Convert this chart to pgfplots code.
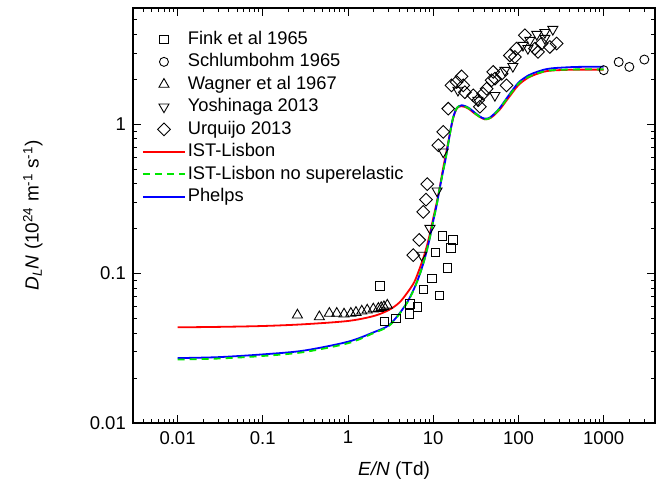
\documentclass[border=0pt]{standalone}
\usepackage{fontspec}
\setmainfont{Liberation Sans}
\usepackage{pgfplots}
\pgfplotsset{compat=1.18}
\definecolor{lgreen}{RGB}{0,230,0}
\begin{document}
\fontsize{18}{21}\selectfont
\begin{tikzpicture}[font=\fontsize{18}{21}\selectfont]
\useasboundingbox (-133pt,-68pt) rectangle (534pt,423pt);
\begin{axis}[
  at={(0,0)}, anchor=south west,
  scale only axis, width=522pt, height=415pt,
  xmode=log, ymode=log,
  xmin=0.003, xmax=4000, ymin=0.01, ymax=6,
  xtick={0.01,0.1,1,10,100,1000},
  xticklabels={0.01,0.1,1,10,100,1000},
  ytick={0.01,0.1,1},
  yticklabels={0.01,0.1,1},
  minor xtick={0.003,0.004,0.005,0.006,0.007,0.008,0.009,0.02,0.03,0.04,0.05,0.06,0.07,0.08,0.09,0.2,0.3,0.4,0.5,0.6,0.7,0.8,0.9,2,3,4,5,6,7,8,9,20,30,40,50,60,70,80,90,200,300,400,500,600,700,800,900,2000,3000,4000},
  minor ytick={0.02,0.03,0.04,0.05,0.06,0.07,0.08,0.09,0.2,0.3,0.4,0.5,0.6,0.7,0.8,0.9,2,3,4,5,6},
  tick align=inside,
  major tick length=8pt, minor tick length=4pt,
  axis line style={line width=1.2pt},
  every tick/.style={black, line width=0.9pt},
  /pgf/number format/assume math mode=true,
  tick label style={font=\fontsize{18.5}{20}\selectfont},
  xticklabel style={yshift=-2pt},
  yticklabel style={xshift=-1pt},
  xlabel={\textit{E/N} (Td)},
  xlabel style={at={(axis description cs:0.5,0)}, anchor=center, yshift=-48pt, font=\fontsize{19}{22}\selectfont},
  ylabel={\textit{D}\textsubscript{\textit{L}}\textit{N} (10\textsuperscript{24} m\textsuperscript{-1} s\textsuperscript{-1})},
  ylabel style={at={(axis description cs:-0.192,0.5)}, anchor=center, rotate=0, font=\fontsize{19}{22}\selectfont},
  legend style={draw=none, fill=none, at={(0.017,0.946)}, anchor=north west,
    font=\fontsize{18.3}{21}\selectfont, inner sep=0pt,
    nodes={inner sep=0pt, text height=13.5pt, text depth=4pt}, row sep=5pt, column sep=2pt},
  legend cell align=left,
  legend image code/.code={\draw[mark repeat=2,mark phase=2,#1] plot coordinates {(0pt,0pt) (21pt,0pt) (42pt,0pt)};},
]
% Fink et al 1965
\addplot[only marks, mark=square, mark size=4.2pt, mark options={black, line width=0.9pt}] coordinates {
(2.37,0.0825)(2.69,0.0479)(3.65,0.0499)(5.23,0.0536)(5.33,0.0625)(6.49,0.0597)(7.64,0.078)(9.66,0.0929)(10.7,0.139)(11.8,0.0715)(12.8,0.179)(14.6,0.109)(16.1,0.149)(17.1,0.168)};
% Schlumbohm 1965
\addplot[only marks, mark=o, mark size=4.5pt, mark options={black, line width=0.9pt}] coordinates {
(1000,2.30)(1500,2.61)(2000,2.42)(3000,2.71)};
% Wagner et al 1967
\addplot[only marks, mark=triangle, mark size=5.8pt, mark options={black, line width=0.9pt}] coordinates {
(0.255,0.0528)(0.461,0.0514)(0.604,0.0542)(0.738,0.0542)(0.898,0.0536)(1.08,0.0542)(1.24,0.055)(1.45,0.0561)(1.68,0.057)(1.98,0.058)(2.27,0.0585)(2.45,0.0592)(2.64,0.060)(2.89,0.0615)};
% Yoshinaga 2013
\addplot[only marks, mark=triangle, mark size=5.8pt, mark options={black, line width=0.9pt, rotate=180}] coordinates {
(7.31,0.133)(9.15,0.201)(11.1,0.358)(13.1,0.653)(19.5,1.69)(33.4,1.45)(52.9,1.56)(69.3,2.30)(86,2.44)(113,3.38)(129,3.22)(136,3.65)(164,4.0)(204,4.12)(204,3.76)(253,4.32)};
% Urquijo 2013
\addplot[only marks, mark=square, mark size=4.5pt, mark options={black, line width=0.9pt, rotate=45}] coordinates {
(5.83,0.133)(6.85,0.168)(7.63,0.259)(8.21,0.313)(8.51,0.397)(11.5,0.724)(13.1,0.888)(15.0,1.27)(16.4,1.82)(18.8,1.92)(21.5,2.09)(22.5,1.82)(23.5,1.64)(29.5,1.56)(33.7,1.45)(35.3,1.31)(38.6,1.60)(42.3,1.73)(48.4,1.97)(50.5,2.24)(52.9,2.02)(63.4,2.18)(72.5,1.82)(79.3,2.89)(90.7,2.82)(95,3.21)(119,3.94)(156,3.21)(170,3.05)(187,3.47)(233,3.29)(280,3.47)};
% IST-Lisbon
\addplot[red, line width=1.8pt, smooth, no marks] coordinates {
(0.01,0.0437)(0.03,0.0440)(0.1,0.0446)(0.3,0.0458)(1,0.0482)(2,0.0520)(3,0.0570)(4,0.0640)(5,0.0750)(6,0.0880)(7,0.110)(8,0.138)(9,0.178)(10,0.235)(11,0.300)(12,0.385)(13,0.50)(14,0.62)(15,0.76)(16,0.92)(17,1.08)(18,1.20)(19,1.28)(20,1.31)(21.5,1.32)(24,1.30)(27,1.25)(30,1.19)(35,1.12)(40,1.08)(45,1.09)(50,1.13)(60,1.25)(75,1.48)(100,1.83)(130,2.05)(150,2.13)(200,2.25)(250,2.29)(350,2.31)(500,2.32)(1000,2.32)};
% Phelps (drawn beneath the green dashes)
\addplot[blue, line width=1.8pt, smooth, no marks, forget plot] coordinates {
(0.01,0.0272)(0.03,0.0276)(0.1,0.0288)(0.3,0.0305)(1,0.0350)(2,0.0405)(3,0.0450)(4,0.0540)(5,0.0650)(6,0.0800)(7,0.100)(8,0.128)(9,0.168)(10,0.225)(11,0.290)(12,0.380)(13,0.48)(14,0.59)(15,0.74)(16,0.92)(17,1.09)(18,1.21)(19,1.29)(20,1.32)(21.5,1.34)(24,1.32)(27,1.27)(30,1.21)(35,1.13)(40,1.09)(45,1.10)(50,1.15)(60,1.28)(75,1.53)(100,1.90)(130,2.12)(150,2.20)(200,2.32)(250,2.37)(350,2.40)(500,2.42)(1000,2.43)};
% IST-Lisbon no superelastic
\addplot[lgreen, line width=1.8pt, dash pattern=on 7pt off 5pt, smooth, no marks] coordinates {
(0.01,0.0266)(0.03,0.0270)(0.1,0.0281)(0.3,0.0298)(1,0.0342)(2,0.0400)(3,0.0445)(4,0.0535)(5,0.0645)(6,0.0795)(7,0.100)(8,0.128)(9,0.168)(10,0.225)(11,0.290)(12,0.380)(13,0.48)(14,0.59)(15,0.74)(16,0.92)(17,1.09)(18,1.21)(19,1.29)(20,1.32)(21.5,1.33)(24,1.31)(27,1.26)(30,1.20)(35,1.12)(40,1.08)(45,1.09)(50,1.14)(60,1.27)(75,1.51)(100,1.87)(130,2.07)(150,2.15)(200,2.26)(250,2.30)(350,2.32)(500,2.33)(1000,2.33)};
\addlegendimage{blue, line width=1.8pt}
\legend{Fink et al 1965, Schlumbohm 1965, Wagner et al 1967, Yoshinaga 2013, Urquijo 2013, IST-Lisbon, IST-Lisbon no superelastic, Phelps}
\end{axis}
\end{tikzpicture}
\end{document}
